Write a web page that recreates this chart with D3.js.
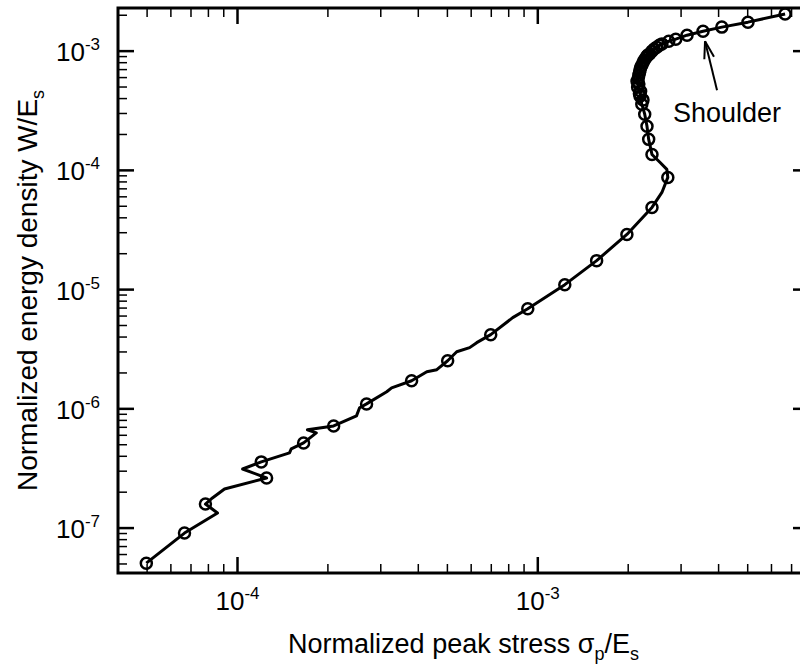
<!DOCTYPE html>
<html>
<head>
<meta charset="utf-8">
<script src="https://cdn.jsdelivr.net/npm/d3@7"></script>
<style>
  body { margin: 0; background: #fff; }
  text { font-family: "Liberation Sans", Arial, sans-serif; fill: #000; }
</style>
</head>
<body>
<div id="chart"></div>
<script>
// curve (normalized peak stress, normalized energy density)
var curveStress = [
  4.97e-5, 6.66e-5, 8.58e-5, 7.82e-5, 8.25e-5, 9.05e-5, 1.25e-4, 1.04e-4, 1.20e-4, 1.49e-4,
  1.51e-4, 1.66e-4, 1.83e-4, 1.71e-4, 2.09e-4, 2.49e-4, 2.55e-4, 2.69e-4, 3.14e-4, 3.26e-4,
  3.80e-4, 4.27e-4, 4.61e-4, 5.01e-4, 5.37e-4, 5.93e-4, 6.26e-4, 6.97e-4, 8.25e-4, 9.26e-4,
  1.23e-3, 1.57e-3, 1.98e-3, 2.40e-3, 2.59e-3, 2.71e-3, 2.69e-3, 2.55e-3, 2.40e-3, 2.34e-3,
  2.31e-3, 2.27e-3, 2.22e-3, 2.19e-3, 2.20e-3, 2.15e-3, 2.17e-3, 2.14e-3, 2.17e-3, 2.19e-3,
  2.22e-3, 2.26e-3, 2.31e-3, 2.36e-3, 2.40e-3, 2.49e-3, 2.59e-3, 2.73e-3, 2.88e-3, 3.14e-3,
  3.55e-3, 4.10e-3, 5.01e-3, 6.66e-3
];
var curveEnergy = [
  5.08e-8, 9.08e-8, 1.34e-7, 1.59e-7, 1.79e-7, 2.13e-7, 2.63e-7, 3.13e-7, 3.59e-7, 4.27e-7,
  4.61e-7, 5.18e-7, 6.28e-7, 6.67e-7, 7.19e-7, 8.73e-7, 1.02e-6, 1.10e-6, 1.39e-6, 1.50e-6,
  1.72e-6, 2.05e-6, 2.13e-6, 2.53e-6, 3.01e-6, 3.26e-6, 3.59e-6, 4.19e-6, 5.82e-6, 6.92e-6,
  1.10e-5, 1.75e-5, 2.90e-5, 4.89e-5, 6.53e-5, 8.73e-5, 1.02e-4, 1.17e-4, 1.36e-4, 1.82e-4,
  2.34e-4, 2.96e-4, 3.59e-4, 4.19e-4, 4.60e-4, 4.98e-4, 5.30e-4, 5.60e-4, 6.28e-4, 6.92e-4,
  7.62e-4, 8.40e-4, 9.08e-4, 9.50e-4, 1.00e-3, 1.08e-3, 1.15e-3, 1.21e-3, 1.26e-3, 1.36e-3,
  1.47e-3, 1.59e-3, 1.75e-3, 2.05e-3
];

// sampled points drawn as open circles
var markerStress = [
  4.97e-5, 6.66e-5, 7.82e-5, 1.25e-4, 1.20e-4, 1.66e-4, 2.09e-4, 2.69e-4, 3.80e-4, 5.01e-4,
  6.97e-4, 9.26e-4, 1.23e-3, 1.57e-3, 1.98e-3, 2.40e-3, 2.71e-3, 2.40e-3, 2.34e-3, 2.31e-3,
  2.27e-3, 2.22e-3, 2.19e-3, 2.20e-3, 2.15e-3, 2.17e-3, 2.14e-3, 2.17e-3, 2.19e-3, 2.22e-3,
  2.26e-3, 2.31e-3, 2.36e-3, 2.40e-3, 2.49e-3, 2.59e-3, 2.73e-3, 2.88e-3, 3.14e-3, 3.55e-3,
  4.10e-3, 5.01e-3, 6.66e-3, 2.24e-3, 2.18e-3, 2.16e-3, 2.18e-3, 2.20e-3, 2.24e-3, 2.29e-3,
  2.33e-3, 2.44e-3, 2.54e-3
];
var markerEnergy = [
  5.08e-8, 9.08e-8, 1.59e-7, 2.63e-7, 3.59e-7, 5.18e-7, 7.19e-7, 1.10e-6, 1.72e-6, 2.53e-6,
  4.19e-6, 6.92e-6, 1.10e-5, 1.75e-5, 2.90e-5, 4.89e-5, 8.73e-5, 1.36e-4, 1.82e-4, 2.34e-4,
  2.96e-4, 3.59e-4, 4.19e-4, 4.60e-4, 4.98e-4, 5.30e-4, 5.60e-4, 6.28e-4, 6.92e-4, 7.62e-4,
  8.40e-4, 9.08e-4, 9.50e-4, 1.00e-3, 1.08e-3, 1.15e-3, 1.21e-3, 1.26e-3, 1.36e-3, 1.47e-3,
  1.59e-3, 1.75e-3, 2.05e-3, 3.90e-4, 4.40e-4, 5.90e-4, 6.60e-4, 7.30e-4, 8.00e-4, 8.80e-4,
  9.30e-4, 1.04e-3, 1.12e-3
];

var xTickLabels = [1e-4, 1e-3];
var yTickLabels = [1e-7, 1e-6, 1e-5, 1e-4, 1e-3];
var xDomain = [4e-5, 8e-3];
var yDomain = [4.2e-8, 2.3e-3];

var xTitle = "Normalized peak stress ";
var yTitle = "Normalized energy density W/E";
var annotation = "Shoulder";
var annotationPoint = [3.55e-3, 1.47e-3];

function init() {
  var w = 800;
  var h = 668;
  var left = 118, right = 809, top = 8, bottom = 573;

  var svg = d3
    .select("#chart")
    .append("svg")
    .attr("width", w)
    .attr("height", h);

  var x = d3.scaleLog().domain(xDomain).range([left, right]);
  var y = d3.scaleLog().domain(yDomain).range([bottom, top]);

  var isMajor = (v) => Math.abs(Math.log10(v) - Math.round(Math.log10(v))) < 1e-6;
  var xTicks = x.ticks().filter((v) => v >= xDomain[0] && v <= xDomain[1]);
  var yTicks = y.ticks().filter((v) => v >= yDomain[0] && v <= yDomain[1]);

  // ticks on all four sides, pointing inward
  function drawTicks(g, ticks, horizontal, sign) {
    g.selectAll("line")
      .data(ticks)
      .enter()
      .append("line")
      .attr("stroke", "#000")
      .attr("stroke-width", (d) => (isMajor(d) ? 2.5 : 1.5))
      .each(function (d) {
        var len = isMajor(d) ? 16 : 9;
        var sel = d3.select(this);
        if (horizontal) {
          sel.attr("x1", x(d)).attr("x2", x(d)).attr("y1", 0).attr("y2", sign * len);
        } else {
          sel.attr("y1", y(d)).attr("y2", y(d)).attr("x1", 0).attr("x2", sign * len);
        }
      });
  }

  drawTicks(svg.append("g").attr("transform", "translate(0," + bottom + ")"), xTicks, true, -1);
  drawTicks(svg.append("g").attr("transform", "translate(0," + top + ")"), xTicks, true, 1);
  drawTicks(svg.append("g").attr("transform", "translate(" + left + ",0)"), yTicks, false, 1);
  drawTicks(svg.append("g").attr("transform", "translate(" + right + ",0)"), yTicks, false, -1);

  // frame
  svg
    .append("rect")
    .attr("x", left)
    .attr("y", top)
    .attr("width", right - left)
    .attr("height", bottom - top)
    .attr("fill", "none")
    .attr("stroke", "#000")
    .attr("stroke-width", 3);

  // tick labels
  var xl = svg
    .selectAll(".xlabel")
    .data(xTickLabels)
    .enter()
    .append("text")
    .attr("class", "xlabel")
    .attr("x", (d) => x(d))
    .attr("y", 610)
    .attr("text-anchor", "middle")
    .attr("font-size", "26px");
  xl.append("tspan").text("10");
  xl.append("tspan")
    .attr("dy", -11)
    .attr("font-size", "17px")
    .text((d) => "-" + Math.round(-Math.log10(d)));

  var yl = svg
    .selectAll(".ylabel")
    .data(yTickLabels)
    .enter()
    .append("text")
    .attr("class", "ylabel")
    .attr("x", 100)
    .attr("y", (d) => y(d) + 10)
    .attr("text-anchor", "end")
    .attr("font-size", "26px");
  yl.append("tspan").text("10");
  yl.append("tspan")
    .attr("dy", -11)
    .attr("font-size", "17px")
    .text((d) => "-" + Math.round(-Math.log10(d)));

  // axis titles
  var xt = svg
    .append("text")
    .attr("x", (left + right) / 2)
    .attr("y", 653)
    .attr("text-anchor", "middle")
    .attr("font-size", "27px");
  xt.append("tspan").text(xTitle + "\u03c3");
  xt.append("tspan").attr("dy", 7).attr("font-size", "18px").text("p");
  xt.append("tspan").attr("dy", -7).text("/E");
  xt.append("tspan").attr("dy", 7).attr("font-size", "18px").text("s");

  var yt = svg
    .append("text")
    .attr("transform", "translate(37," + (top + bottom) / 2 + ") rotate(-90)")
    .attr("text-anchor", "middle")
    .attr("font-size", "28px");
  yt.append("tspan").text(yTitle);
  yt.append("tspan").attr("dy", 7).attr("font-size", "18px").text("s");

  // curve
  var points = curveStress.map((d, i) => [d, curveEnergy[i]]);
  var line = d3
    .line()
    .x((d) => x(d[0]))
    .y((d) => y(d[1]));

  svg
    .append("path")
    .datum(points)
    .attr("d", line)
    .attr("fill", "none")
    .attr("stroke", "#000")
    .attr("stroke-width", 3)
    .attr("stroke-linejoin", "round");

  svg
    .selectAll(".marker")
    .data(markerStress.map((d, i) => [d, markerEnergy[i]]))
    .enter()
    .append("circle")
    .attr("class", "marker")
    .attr("cx", (d) => x(d[0]))
    .attr("cy", (d) => y(d[1]))
    .attr("r", 5.5)
    .attr("fill", "none")
    .attr("stroke", "#000")
    .attr("stroke-width", 2.5);

  // annotation with arrow
  var tipX = x(annotationPoint[0]) + 2;
  var tipY = y(annotationPoint[1]) + 10;
  var tailX = tipX + 12;
  var tailY = tipY + 49;
  svg
    .append("line")
    .attr("x1", tailX)
    .attr("y1", tailY)
    .attr("x2", tipX)
    .attr("y2", tipY)
    .attr("stroke", "#000")
    .attr("stroke-width", 2);

  var ang = Math.atan2(tailY - tipY, tailX - tipX);
  [-0.28, 0.28].forEach(function (da) {
    svg
      .append("line")
      .attr("x1", tipX)
      .attr("y1", tipY)
      .attr("x2", tipX + 18 * Math.cos(ang + da))
      .attr("y2", tipY + 18 * Math.sin(ang + da))
      .attr("stroke", "#000")
      .attr("stroke-width", 2);
  });

  svg
    .append("text")
    .attr("x", 673)
    .attr("y", 122)
    .attr("font-size", "27px")
    .text(annotation);
}

window.onload = init;
</script>
</body>
</html>
